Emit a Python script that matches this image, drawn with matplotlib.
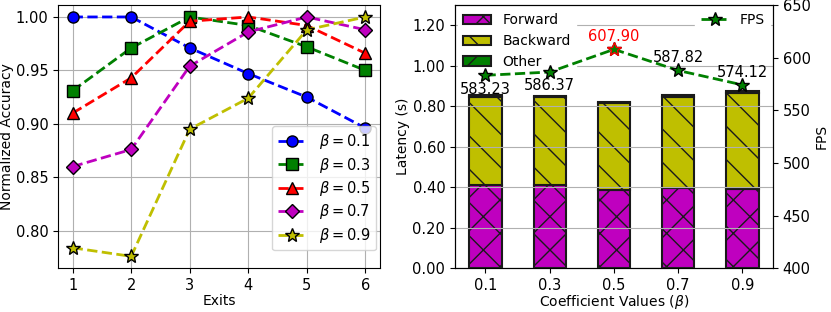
import numpy as np
import matplotlib
matplotlib.use("Agg")
from matplotlib import pyplot as plt

exits = [1, 2, 3, 4, 5, 6]
betas = ["0.1", "0.3", "0.5", "0.7", "0.9"]
acc_01 = [1.000, 1.000, 0.971, 0.947, 0.925, 0.896]
acc_03 = [0.931, 0.971, 1.000, 0.992, 0.972, 0.950]
acc_05 = [0.910, 0.943, 0.996, 1.000, 0.992, 0.966]
acc_07 = [0.860, 0.876, 0.954, 0.986, 1.000, 0.988]
acc_09 = [0.784, 0.776, 0.895, 0.924, 0.988, 1.000]

forward = [0.413, 0.410, 0.387, 0.398, 0.394]
backward = [0.435, 0.435, 0.428, 0.446, 0.472]
other = [0.008, 0.008, 0.008, 0.012, 0.008]
fps = [583.23, 586.37, 607.90, 587.82, 574.12]

plt.rcParams['font.size'] = 10.5

fig = plt.figure(figsize=(8.31, 3.12), dpi=100)
ax1 = fig.add_axes([0.0698, 0.14, 0.3875, 0.844])
ax2 = fig.add_axes([0.5475, 0.14, 0.3827, 0.844])

# left: normalized accuracy per exit
series = [acc_01, acc_03, acc_05, acc_07, acc_09]
colors = ['b', 'g', 'r', 'm', 'y']
markers = ['o', 's', '^', 'D', '*']
sizes = [8, 8, 8, 7.5, 10]
for s, b, c, m, ms in zip(series, betas, colors, markers, sizes):
    ax1.plot(exits, s, '--', color=c, marker=m, markersize=ms, markeredgecolor='k',
             linewidth=2, label=r'$\beta=%s$' % b)
ax1.set_xlabel('Exits', labelpad=1, fontsize=10)
ax1.set_ylabel('Normalized Accuracy', labelpad=1, fontsize=10)
ax1.set_xticks(exits)
ax1.set_yticks([0.80, 0.85, 0.90, 0.95, 1.00])
ax1.yaxis.set_major_formatter(matplotlib.ticker.FormatStrFormatter('%.2f'))
ax1.grid(True)
ax1.legend(loc='lower right', bbox_to_anchor=(1.01, 0.04), fontsize=10.5,
           labelspacing=0.3)

# right: latency breakdown + FPS
x = np.arange(len(betas))
w = 0.5
ec = '0.1'
ax2.bar(x, forward, w, color='m', edgecolor=ec, linewidth=1.5, hatch='x', label='Forward')
ax2.bar(x, backward, w, bottom=forward, color='y', edgecolor=ec, linewidth=1.5, hatch='\\', label='Backward')
bot = np.array(forward) + np.array(backward)
ax2.bar(x, other, w, bottom=bot, color='g', edgecolor=ec, linewidth=1.5, hatch='/', label='Other')
ax2.set_ylim(0, 1.3)
ax2.set_yticks([0, 0.2, 0.4, 0.6, 0.8, 1.0, 1.2])
ax2.yaxis.set_major_formatter(matplotlib.ticker.FormatStrFormatter('%.2f'))
ax2.set_xticks(x)
ax2.set_xticklabels(betas)
ax2.set_xlabel(r'Coefficient Values ($\beta$)', labelpad=0, fontsize=10)
ax2.set_ylabel('Latency (s)', labelpad=2, fontsize=10)
ax2.yaxis.grid(True)
ax2.legend(loc='upper left', fontsize=10, framealpha=1, edgecolor='white',
           borderaxespad=0.2, labelspacing=0.5)

ax3 = ax2.twinx()
ax3.plot(x, fps, '--', color='g', marker='*', markersize=10, markeredgecolor='k',
         linewidth=2, label='FPS')
ax3.plot(x[2], fps[2], '*', color='g', markersize=10, markeredgecolor='r')
ax3.set_ylim(400, 650)
ax3.set_ylabel('FPS', labelpad=3, fontsize=10)
offsets = [-10, -10, 9, 9, 9]
for i, (v, dy) in enumerate(zip(fps, offsets)):
    ax3.annotate('%.2f' % v, (x[i], v), xytext=(0, dy), textcoords='offset points',
                 ha='center', va='center', fontsize=10.5,
                 color='r' if i == 2 else 'k')
ax3.legend(loc='upper right', fontsize=10, framealpha=1, edgecolor='white',
           borderaxespad=0.2)

plt.savefig('out.png', dpi=100)
